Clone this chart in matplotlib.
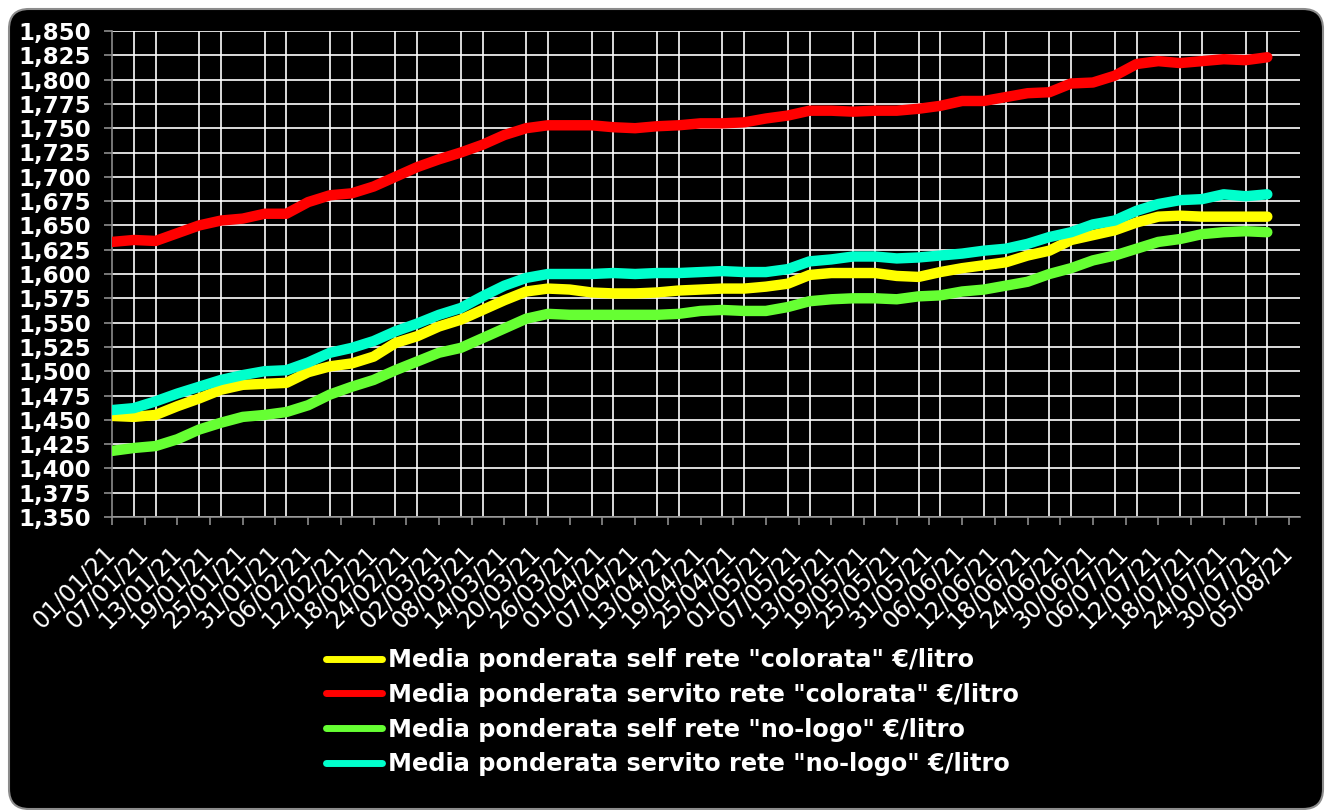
import pandas as pd
import matplotlib
matplotlib.use("Agg")
import matplotlib.pyplot as plt
from matplotlib.patches import FancyBboxPatch
from matplotlib.transforms import IdentityTransform, ScaledTranslation
from matplotlib.ticker import MultipleLocator, FuncFormatter

# sampled every 4 days from 01/01/21
dates = pd.date_range("2021-01-01", periods=54, freq="4D")

self_colorata = [1.454, 1.453, 1.455, 1.464, 1.472, 1.481, 1.486, 1.487, 1.488, 1.499,
                 1.505, 1.508, 1.515, 1.529, 1.536, 1.546, 1.553, 1.563, 1.573, 1.582,
                 1.585, 1.584, 1.581, 1.580, 1.580, 1.581, 1.583, 1.584, 1.585, 1.585,
                 1.587, 1.590, 1.599, 1.601, 1.601, 1.601, 1.598, 1.597, 1.602, 1.606,
                 1.609, 1.612, 1.619, 1.624, 1.635, 1.640, 1.645, 1.653, 1.659, 1.660,
                 1.659, 1.659, 1.659, 1.659]
servito_colorata = [1.633, 1.635, 1.634, 1.642, 1.650, 1.655, 1.657, 1.662, 1.662, 1.674,
                    1.681, 1.683, 1.690, 1.700, 1.710, 1.718, 1.725, 1.733, 1.743, 1.750,
                    1.753, 1.753, 1.753, 1.751, 1.750, 1.752, 1.753, 1.755, 1.755, 1.756,
                    1.760, 1.763, 1.768, 1.768, 1.767, 1.768, 1.768, 1.770, 1.773, 1.778,
                    1.778, 1.782, 1.786, 1.787, 1.796, 1.797, 1.804, 1.816, 1.819, 1.817,
                    1.819, 1.821, 1.820, 1.823]
self_nologo = [1.418, 1.421, 1.423, 1.430, 1.440, 1.447, 1.453, 1.455, 1.458, 1.465,
               1.476, 1.484, 1.491, 1.501, 1.510, 1.519, 1.524, 1.534, 1.544, 1.554,
               1.559, 1.558, 1.558, 1.558, 1.558, 1.558, 1.559, 1.562, 1.563, 1.562,
               1.562, 1.566, 1.572, 1.574, 1.575, 1.575, 1.574, 1.577, 1.578, 1.582,
               1.584, 1.588, 1.592, 1.600, 1.606, 1.614, 1.619, 1.626, 1.633, 1.636,
               1.641, 1.643, 1.644, 1.643]
servito_nologo = [1.460, 1.462, 1.469, 1.477, 1.484, 1.491, 1.496, 1.500, 1.501, 1.509,
                  1.519, 1.524, 1.531, 1.541, 1.549, 1.558, 1.565, 1.577, 1.588, 1.596,
                  1.600, 1.600, 1.600, 1.601, 1.600, 1.601, 1.601, 1.602, 1.603, 1.602,
                  1.602, 1.605, 1.613, 1.615, 1.618, 1.618, 1.616, 1.617, 1.619, 1.621,
                  1.624, 1.626, 1.631, 1.638, 1.643, 1.651, 1.655, 1.665, 1.672, 1.676,
                  1.677, 1.682, 1.680, 1.682]

series = [self_colorata, servito_colorata, self_nologo, servito_nologo]
labels = ['Media ponderata self rete "colorata" €/litro',
          'Media ponderata servito rete "colorata" €/litro',
          'Media ponderata self rete "no-logo" €/litro',
          'Media ponderata servito rete "no-logo" €/litro']
colors = ["#ffff00", "#ff0000", "#66ff33", "#00ffcc"]

tick_dates = pd.date_range("2021-01-01", "2021-08-05", freq="6D")
grid_dates = pd.date_range("2021-01-01", "2021-08-05", freq="4D")

W, H = 1325, 810
fig = plt.figure(figsize=(W / 100, H / 100), dpi=100)
fig.patch.set_facecolor("white")

# black rounded panel behind everything
frame = FancyBboxPatch((9, 1), 1314, 800, boxstyle="round,pad=0,rounding_size=20",
                       facecolor="black", edgecolor="#8c8c8c", linewidth=1.5,
                       transform=IdentityTransform(), zorder=-5)
fig.add_artist(frame)

ax = fig.add_axes([112 / W, 1 - 517 / H, (1300 - 112) / W, 486 / H])
ax.set_facecolor("black")

for vals, lab, col in zip(series, labels, colors):
    ax.plot(dates, vals, color=col, lw=7.5, label=lab,
            solid_capstyle="round", solid_joinstyle="round", zorder=3)

ax.set_ylim(1.35, 1.85)
ax.set_xlim(pd.Timestamp("2021-01-01"), pd.Timestamp("2021-01-01") + pd.Timedelta(days=218))
ax.yaxis.set_major_locator(MultipleLocator(0.025))
ax.yaxis.set_major_formatter(FuncFormatter(lambda v, p: f"{v:.3f}".replace(".", ",")))

ax.set_xticks(tick_dates)
ax.set_xticklabels([d.strftime("%d/%m/%y") for d in tick_dates], rotation=45,
                   ha="right", va="top", color="white", fontsize=17)
ax.set_xticks(grid_dates, minor=True)

ax.grid(which="minor", axis="x", color="white", lw=1.2)
ax.grid(which="major", axis="y", color="white", lw=1.2)
ax.grid(which="major", axis="x", visible=False)
ax.set_axisbelow(True)

ax.tick_params(axis="x", which="minor", length=0)
ax.tick_params(axis="x", which="major", length=6, width=1.2, color="#8c8c8c", pad=11)
ax.tick_params(axis="y", length=6, width=1.2, color="#8c8c8c", pad=9,
               labelcolor="white", labelsize=16.5)
for t in ax.get_yticklabels():
    t.set_fontweight("bold")

# nudge the date labels to the right like the original
shift = ScaledTranslation(0.08, 0, fig.dpi_scale_trans)
for t in ax.get_xticklabels():
    t.set_transform(t.get_transform() + shift)

for side in ["top", "right"]:
    ax.spines[side].set_visible(False)
for side in ["left", "bottom"]:
    ax.spines[side].set_color("#8c8c8c")
    ax.spines[side].set_linewidth(1.2)

fig.legend(loc="upper left", bbox_to_anchor=(326 / W, 1 - 648 / H), frameon=False,
           borderpad=0, borderaxespad=0, handlelength=2.35, handletextpad=0.25,
           labelspacing=0.45, prop={"weight": "bold", "size": 17.3},
           labelcolor="white")
for line in fig.legends[0].get_lines():
    line.set_linewidth(5)
    line.set_solid_capstyle("round")

fig.canvas.draw()
ax.yaxis.get_gridlines()[-1].set_visible(False)

fig.savefig("out.png", dpi=100, facecolor=fig.get_facecolor())
